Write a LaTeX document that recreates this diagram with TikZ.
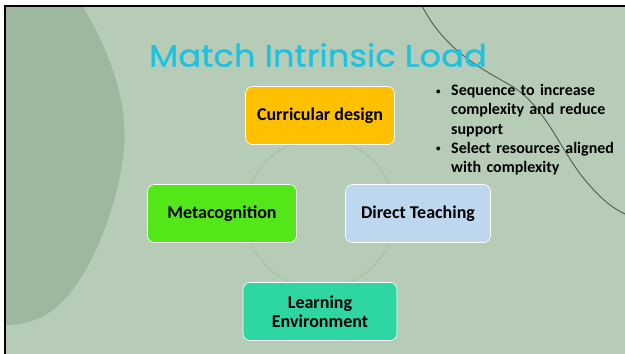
\documentclass[tikz,border=0pt]{standalone}
\usepackage{fontspec}
\setmainfont{Carlito}
\newfontfamily\titlefont{Poppins}[FakeBold=0.7]
\usetikzlibrary{positioning}

\definecolor{slidebg}{HTML}{B7CCB6}
\definecolor{blobgreen}{HTML}{9FB79E}
\definecolor{swoosh}{HTML}{4D5E4E}
\definecolor{titlecyan}{HTML}{1DC2E0}
\definecolor{ringline}{HTML}{A3B596}
\definecolor{curricfill}{HTML}{FFC000}
\definecolor{metafill}{HTML}{53E619}
\definecolor{directfill}{HTML}{BDD7EE}
\definecolor{learnfill}{HTML}{2ED6A2}

\newcommand{\bpoint}{\par\hangindent=15pt\hangafter=1\noindent
  \makebox[15pt][l]{\raisebox{1.5pt}{\fontsize{9}{9}\selectfont\textbullet}}}

\begin{document}
\begin{tikzpicture}[x=1pt,y=-1pt,node distance=98pt,
  box/.style={rectangle,rounded corners=7pt,draw=white,line width=0.6pt,
    minimum width=149pt,minimum height=58pt,align=center,inner sep=2pt,
    font=\fontsize{18}{19}\selectfont\bfseries}]
\useasboundingbox (0,0) rectangle (625,354);

% slide background and frame
\fill[white] (0,0) rectangle (625,354);
\fill[slidebg] (5,6) rectangle (625,354);
\fill[blobgreen] (5,7) -- (83,7) .. controls (112,55) and (128,105) .. (124,150)
  .. controls (118,205) and (88,295) .. (40,318)
  .. controls (25,324) and (12,325) .. (5,325) -- cycle;
\draw[swoosh,line width=0.9pt] (422,6) .. controls (445,50) and (480,68) .. (510,85)
  .. controls (545,105) and (560,150) .. (585,180)
  .. controls (600,198) and (612,208) .. (625,214);
\draw[black,line width=2pt] (625,6) -- (5,6) -- (5,354);

% title
\node (title) at (318,55) {\titlefont\fontsize{31}{36}\selectfont\color{titlecyan}%
  \scalebox{1.09}[1]{Match Intrinsic Load}};

% cycle
\coordinate (c) at (320,213.5);
\draw[ringline,line width=0.5pt] (c) circle (75);

\node[box,fill=curricfill] (curric) [above of=c] {Curricular design};
\node[box,fill=metafill] (meta) [left of=c] {Metacognition};
\node[box,fill=directfill,minimum width=145pt] (direct) [right of=c] {Direct Teaching};
\node[box,fill=learnfill,minimum width=154pt] (learn) [below of=c] {Learning\\Environment};

% notes
\node[anchor=north west,text width=185pt,inner sep=0pt,
  font=\fontsize{16}{19.3}\selectfont\bfseries] (notes) at (436,76)
  {\raggedright
   \bpoint Sequence to increase\newline complexity and reduce\newline support
   \bpoint Select resources aligned\newline with complexity\par};
\end{tikzpicture}
\end{document}
